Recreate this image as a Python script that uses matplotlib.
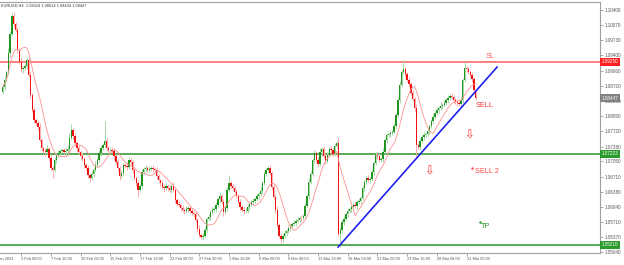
import numpy as np
import pandas as pd
import matplotlib
matplotlib.use("Agg")
import matplotlib.pyplot as plt
import matplotlib.transforms as mtransforms

# ---------------- DATA (EURUSD H4) ----------------
first_open = 1.0859
closes = [
    1.0870, 1.0885, 1.0903, 1.0945, 1.0987, 1.1027, 1.1009, 1.0996, 1.0952, 1.0925, 1.0909, 1.0911, 1.0916, 1.0929, 1.0896, 1.0852,
    1.0819, 1.0797, 1.0790, 1.0781, 1.0752, 1.0735, 1.0728, 1.0726, 1.0733, 1.0713, 1.0690, 1.0686, 1.0708, 1.0719, 1.0724, 1.0728,
    1.0730, 1.0726, 1.0728, 1.0733, 1.0757, 1.0775, 1.0761, 1.0746, 1.0735, 1.0726, 1.0717, 1.0710, 1.0697, 1.0690, 1.0675, 1.0668,
    1.0677, 1.0686, 1.0697, 1.0708, 1.0724, 1.0735, 1.0741, 1.0750, 1.0735, 1.0730, 1.0731, 1.0728, 1.0717, 1.0704, 1.0690, 1.0673,
    1.0679, 1.0697, 1.0695, 1.0693, 1.0708, 1.0704, 1.0686, 1.0668, 1.0657, 1.0642, 1.0651, 1.0682, 1.0688, 1.0690, 1.0686, 1.0688,
    1.0690, 1.0688, 1.0686, 1.0673, 1.0664, 1.0657, 1.0648, 1.0646, 1.0651, 1.0646, 1.0642, 1.0651, 1.0642, 1.0620, 1.0611, 1.0609,
    1.0602, 1.0598, 1.0595, 1.0600, 1.0602, 1.0595, 1.0591, 1.0589, 1.0576, 1.0556, 1.0542, 1.0538, 1.0540, 1.0553, 1.0578, 1.0582,
    1.0593, 1.0598, 1.0600, 1.0609, 1.0622, 1.0629, 1.0615, 1.0593, 1.0602, 1.0642, 1.0657, 1.0651, 1.0646, 1.0638, 1.0629, 1.0615,
    1.0604, 1.0598, 1.0595, 1.0596, 1.0604, 1.0611, 1.0615, 1.0618, 1.0622, 1.0629, 1.0633, 1.0640, 1.0657, 1.0677, 1.0686, 1.0690,
    1.0679, 1.0648, 1.0626, 1.0598, 1.0564, 1.0540, 1.0533, 1.0540, 1.0547, 1.0551, 1.0558, 1.0562, 1.0567, 1.0569, 1.0573, 1.0576,
    1.0580, 1.0579, 1.0584, 1.0606, 1.0629, 1.0660, 1.0677, 1.0708, 1.0724, 1.0708, 1.0699, 1.0726, 1.0733, 1.0717, 1.0706, 1.0719,
    1.0733, 1.0730, 1.0722, 1.0739, 1.0746, 1.0545, 1.0553, 1.0571, 1.0578, 1.0589, 1.0595, 1.0600, 1.0604, 1.0609, 1.0607, 1.0615,
    1.0618, 1.0624, 1.0646, 1.0660, 1.0668, 1.0664, 1.0666, 1.0682, 1.0702, 1.0719, 1.0717, 1.0708, 1.0710, 1.0726, 1.0752, 1.0763,
    1.0766, 1.0768, 1.0770, 1.0783, 1.0808, 1.0841, 1.0874, 1.0903, 1.0909, 1.0898, 1.0885, 1.0876, 1.0856, 1.0843, 1.0823, 1.0741,
    1.0737, 1.0750, 1.0759, 1.0763, 1.0766, 1.0772, 1.0783, 1.0794, 1.0803, 1.0812, 1.0819, 1.0823, 1.0828, 1.0830, 1.0834, 1.0841,
    1.0845, 1.0850, 1.0848, 1.0841, 1.0836, 1.0834, 1.0832, 1.0841, 1.0885, 1.0912, 1.0909, 1.0903, 1.0896, 1.0887, 1.0862, 1.0845,
]
# wick lengths in pips above / below the body
wick_up = [
    6, 8, 5, 10, 7, 6, 9, 4, 7, 5, 8, 6, 4, 7, 5, 9,
    5, 7, 4, 6, 9, 5, 3, 6, 8, 4, 6, 5, 7, 4, 6, 3,
    5, 4, 6, 8, 10, 13, 5, 6, 4, 7, 5, 6, 4, 5, 7, 4,
    6, 5, 8, 4, 6, 7, 5, 45, 8, 4, 6, 5, 7, 4, 6, 5,
    7, 5, 4, 8, 6, 5, 4, 6, 5, 7, 4, 6, 5, 8, 4, 6,
    5, 7, 4, 6, 5, 3, 6, 5, 7, 4, 6, 5, 8, 4, 5, 6,
    4, 7, 5, 6, 4, 5, 7, 4, 6, 5, 8, 4, 6, 7, 5, 6,
    4, 6, 5, 7, 4, 8, 5, 6, 4, 6, 18, 5, 7, 4, 6, 5,
    6, 4, 7, 5, 6, 4, 5, 7, 4, 6, 5, 8, 4, 6, 5, 4,
    7, 5, 6, 4, 8, 5, 6, 4, 7, 5, 6, 4, 5, 7, 4, 6,
    5, 6, 4, 7, 5, 8, 6, 5, 7, 4, 6, 9, 5, 6, 4, 7,
    5, 6, 4, 7, 5, 13, 8, 4, 6, 5, 7, 4, 6, 5, 8, 4,
    6, 5, 7, 4, 6, 8, 5, 6, 4, 7, 5, 6, 4, 8, 5, 6,
    4, 6, 5, 7, 4, 6, 8, 5, 21, 6, 4, 7, 5, 6, 4, 8,
    5, 6, 4, 7, 5, 6, 4, 5, 7, 4, 6, 5, 8, 4, 6, 5,
    7, 4, 6, 5, 4, 7, 5, 6, 4, 13, 5, 6, 4, 7, 5, 4,
]
wick_dn = [
    5, 7, 4, 6, 8, 5, 6, 4, 7, 5, 6, 8, 4, 6, 5, 7,
    4, 6, 5, 7, 4, 6, 5, 8, 4, 6, 5, 18, 4, 6, 5, 7,
    5, 4, 6, 5, 7, 4, 6, 5, 8, 4, 6, 5, 7, 4, 6, 8,
    5, 6, 4, 7, 5, 6, 4, 5, 7, 4, 6, 5, 8, 4, 6, 9,
    4, 6, 5, 7, 4, 5, 6, 4, 7, 16, 5, 6, 4, 7, 5, 6,
    4, 6, 5, 7, 4, 6, 5, 8, 4, 6, 5, 7, 4, 6, 5, 4,
    6, 5, 7, 4, 6, 5, 4, 7, 5, 6, 4, 5, 6, 4, 7, 5,
    6, 4, 5, 7, 4, 6, 5, 8, 4, 6, 5, 7, 4, 6, 5, 4,
    7, 5, 6, 4, 5, 7, 4, 6, 5, 4, 7, 5, 6, 4, 5, 7,
    4, 6, 5, 7, 4, 5, 9, 6, 4, 7, 5, 6, 4, 5, 7, 4,
    6, 5, 4, 7, 5, 6, 4, 5, 7, 4, 6, 5, 8, 4, 6, 5,
    4, 7, 5, 6, 4, 5, 29, 6, 6, 5, 7, 4, 6, 5, 4, 7,
    5, 6, 4, 7, 5, 4, 6, 5, 7, 4, 6, 5, 4, 6, 5, 7,
    4, 6, 5, 4, 7, 5, 6, 4, 5, 7, 4, 6, 5, 4, 6, 28,
    5, 7, 4, 6, 5, 4, 7, 5, 6, 4, 5, 7, 4, 6, 5, 4,
    6, 5, 4, 7, 5, 6, 4, 5, 7, 4, 6, 5, 4, 6, 5, 3,
]

tick_bars = [10, 26, 42, 58, 74, 90, 106, 122, 138, 154, 170, 186, 202, 218, 234, 250]
tick_labels = ["3 Feb 00:00", "7 Feb 16:00", "10 Feb 08:00", "15 Feb 00:00", "17 Feb 16:00",
               "22 Feb 08:00", "27 Feb 00:00", "1 Mar 16:00", "6 Mar 08:00", "9 Mar 00:00",
               "13 Mar 16:00", "16 Mar 08:00", "21 Mar 00:00", "23 Mar 16:00", "28 Mar 08:00",
               "31 Mar 00:00"]
price_ticks = [1.10400, 1.10070, 1.09730, 1.09400, 1.09060, 1.08720, 1.08390, 1.08050, 1.07720,
               1.07380, 1.07050, 1.06710, 1.06380, 1.06040, 1.05710, 1.05370, 1.05040]

sl_level = 1.09250
mid_level = 1.07223
tp_level = 1.05210
last_price = 1.08447
trend_bars = [180.8, 266.5]
trend_prices = [1.05157, 1.09139]

# ---------------- CANDLES ----------------
closes = np.array(closes)
opens = np.concatenate([[first_open], closes[:-1]])
highs = np.maximum(opens, closes) + np.array(wick_up) * 0.0001
lows = np.minimum(opens, closes) - np.array(wick_dn) * 0.0001
idx = np.arange(len(closes))
up = closes >= opens
ma = pd.Series(closes).rolling(10, min_periods=1).mean()

W, H = 624, 265
fig = plt.figure(figsize=(W / 100, H / 100), dpi=100)
ax = fig.add_axes([0, 12 / H, 600 / W, 251 / H])
ax.set_xlim(-1.43, 321.95)
ax.set_ylim(1.05025, 1.10577)

ax.vlines(idx, lows, highs, colors=np.where(up, "#a6d8a6", "#ffaaaa"), lw=0.7, zorder=2)
body = np.abs(closes - opens)
body = np.where(body < 0.00005, 0.00005, body)
ax.bar(idx, body, bottom=np.minimum(opens, closes), width=0.75,
       color=np.where(up, "#1e961e", "#f01010"), linewidth=0, zorder=3)
ax.plot(idx, ma, color="#ff9090", lw=0.6, zorder=4)

# levels and trend line
ax.axhline(sl_level, color="#ff6a6a", lw=1.2, zorder=1)
ax.axhline(mid_level, color="#3c9c3c", lw=1.2, zorder=1)
ax.axhline(tp_level, color="#3c9c3c", lw=1.2, zorder=1)
ax.plot(trend_bars, trend_prices, color="#2020f0", lw=1.2, zorder=5)

# annotations
lab = dict(family="Liberation Sans", fontsize=5.3, ha="center", va="center", zorder=6)
ax.text(262.7, 1.0938, "SL", color="#ff5a5a", **lab)
ax.text(260.0, 1.0828, "SELL", color="#ff3c3c", **lab)
ax.text(260.8, 1.0683, "SELL 2", color="#ff4a4a", **lab)
ax.text(260.5, 1.0562, "TP", color="#2a9a2a", **lab)
ax.plot([253.0], [1.0690], marker=".", ms=1.5, color="#ff4a4a")
ax.plot([257.3], [1.0571], marker=".", ms=1.5, color="#2a9a2a")
ax.text(251.1, 1.0763, "\u21e9", color="#ff3030", fontsize=8.5, ha="center", va="center")
ax.text(229.8, 1.0684, "\u21e9", color="#ff3030", fontsize=8.5, ha="center", va="center")

# axes styling
ax.spines["left"].set_visible(False)
for s in ["top", "bottom", "right"]:
    ax.spines[s].set_color("#a0a0a0")
    ax.spines[s].set_linewidth(0.8)

ax.yaxis.tick_right()
ax.set_yticks(price_ticks)
ax.set_yticklabels([f"{p:.5f}" for p in price_ticks], family="Liberation Sans", fontsize=3.3, color="#555555")
ax.tick_params(axis="y", length=2, width=0.5, color="#888888", pad=1.5)
ax.set_xticks(tick_bars)
ax.set_xticklabels(tick_labels, family="Liberation Sans", fontsize=2.8, color="#555555", ha="left")
ax.tick_params(axis="x", length=2, width=0.5, color="#888888", pad=0.8)

# price tags on the right scale
blend = mtransforms.blended_transform_factory(ax.transAxes, ax.transData)
for lvl, col in [(sl_level, "#ff2020"), (last_price, "#808080"), (mid_level, "#2a9a2a"), (tp_level, "#2a9a2a")]:
    ax.text(1.003, lvl, f"{lvl:.5f}", transform=blend, family="Liberation Sans", fontsize=3.3,
            color="white", ha="left", va="center", zorder=10,
            bbox=dict(facecolor=col, edgecolor="none", pad=1.0))

fig.text(1 / W, 1 - 6 / H, "EURUSD,H4  1.08624 1.08614 1.08434 1.08447", family="Liberation Sans",
         fontsize=2.8, color="#333333", ha="left", va="center")
fig.text(-8 / W, 1 - 258.5 / H, "31 Jan 2023", family="Liberation Sans", fontsize=2.8,
         color="#555555", ha="left", va="center")

fig.savefig("out.png", dpi=100, facecolor="white")
